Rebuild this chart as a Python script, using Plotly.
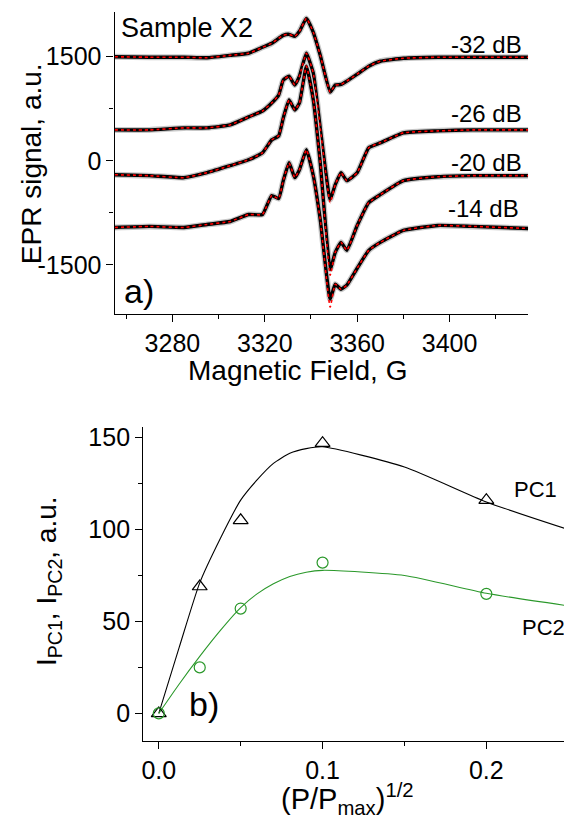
import plotly.graph_objects as go

# top panel: EPR spectra (field in G, signal in a.u.)
field = [3255, 3270, 3285, 3295, 3305, 3313, 3319, 3323, 3326, 3328, 3330.5, 3333, 3335, 3338,
         3341, 3344, 3348.3, 3350.5, 3353, 3355.5, 3360, 3365, 3370, 3380, 3395, 3410, 3434]

epr_32 = [1500, 1493, 1493, 1485, 1520, 1550, 1636, 1694, 1765, 1809, 1823, 1794, 1866, 2053,
          1852, 1522, 990, 1091, 1100, 1148, 1249, 1364, 1435, 1478, 1493, 1493, 1493]
epr_26 = [445, 445, 474, 474, 517, 632, 718, 833, 947, 1163, 1220, 1091, 1220, 1550,
          1263, 474, -560, -344, -172, -287, -172, 187, 258, 402, 431, 445, 445]
epr_20 = [-201, -215, -244, -172, -72, 14, 115, 301, 359, 617, 876, 732, 833, 1364,
          876, -29, -1565, -1321, -1177, -1292, -933, -603, -488, -287, -230, -215, -215]
epr_14 = [-962, -947, -962, -919, -876, -775, -775, -502, -545, -287, -29, -244, -129, 158,
          -215, -847, -1995, -1780, -1852, -1794, -1550, -1292, -1177, -1005, -933, -947, -976]

# red dotted fits, same as the data except where they visibly differ
fit_32 = epr_32
fit_26 = epr_26[:16] + [-603] + epr_26[17:]
fit_20 = epr_20[:16] + [-1650] + epr_20[17:]
fit_14 = epr_14[:16] + [-2110] + epr_14[17:]

spectra = [("-32 dB", epr_32, fit_32), ("-26 dB", epr_26, fit_26),
           ("-20 dB", epr_20, fit_20), ("-14 dB", epr_14, fit_14)]

# bottom panel
p_sqrt = [0.0, 0.025, 0.05, 0.1, 0.2]
pc1 = [0, 69, 105, 147, 116]
pc2 = [0, 25, 57, 82, 65]

fit_x = [0, 0.0125, 0.025, 0.0375, 0.05, 0.06, 0.07, 0.08, 0.09, 0.1, 0.15, 0.2, 0.25]
pc1_fit = [0, 36, 71, 95, 116, 127, 136, 141.5, 144, 145, 134, 115, 100]
pc2_fit = [0, 16, 31, 45, 57.5, 65, 70.5, 74.5, 76.8, 77.8, 75, 65.3, 58.5]

FONT = "Liberation Sans"
OFF = 8  # page body margin, the figure starts 8px in
W, H = 572 - OFF, 825 - OFF
GREEN = "#2a982a"


def px(x):
    return min(max((x - OFF) / W, 0), 1)


def py(y):
    return min(max(1 - (y - OFF) / H, 0), 1)


fig = go.Figure()

for name, y, f in spectra:
    fig.add_trace(go.Scatter(x=field, y=y, mode="lines", xaxis="x", yaxis="y",
                             line=dict(color="#c8c8c8", width=6, shape="spline", smoothing=0.4),
                             hoverinfo="skip"))
    fig.add_trace(go.Scatter(x=field, y=y, mode="lines", xaxis="x", yaxis="y", name=name,
                             line=dict(color="black", width=3.4, shape="spline", smoothing=0.4)))
for name, y, f in spectra:
    fig.add_trace(go.Scatter(x=field, y=f, mode="lines", xaxis="x", yaxis="y", name=name + " fit",
                             line=dict(color="red", width=1.6, dash="dot", shape="spline",
                                       smoothing=0.4)))

fig.add_trace(go.Scatter(x=fit_x, y=pc1_fit, mode="lines", xaxis="x2", yaxis="y2",
                         line=dict(color="black", width=1.1, shape="spline", smoothing=0.6)))
fig.add_trace(go.Scatter(x=fit_x, y=pc2_fit, mode="lines", xaxis="x2", yaxis="y2",
                         line=dict(color=GREEN, width=1.1, shape="spline", smoothing=0.6)))
fig.add_trace(go.Scatter(x=p_sqrt, y=pc1, mode="markers", xaxis="x2", yaxis="y2", name="PC1",
                         marker=dict(symbol="triangle-up-open", size=13, color="black",
                                     line=dict(width=1.2))))
fig.add_trace(go.Scatter(x=p_sqrt, y=pc2, mode="markers", xaxis="x2", yaxis="y2", name="PC2",
                         marker=dict(symbol="circle-open", size=11, color=GREEN,
                                     line=dict(width=1.2))))

axis_style = dict(showline=True, linecolor="black", linewidth=1.3, ticks="outside",
                  ticklen=7, tickwidth=1.3, tickcolor="black", showgrid=False,
                  zeroline=False, tickfont=dict(family=FONT, size=25, color="black"))
minor_style = dict(ticks="outside", ticklen=4, tickwidth=1.3, tickcolor="black", showgrid=False)

fig.update_layout(
    width=W, height=H, margin=dict(l=0, r=0, t=0, b=0),
    paper_bgcolor="white", plot_bgcolor="white", showlegend=False,
    font=dict(family=FONT, color="black"),
    xaxis=dict(axis_style, domain=[px(113), px(528)], range=[3255, 3434], anchor="y",
               tickvals=[3280, 3320, 3360, 3400],
               minor=dict(minor_style, tickvals=[3260, 3300, 3340, 3380, 3420])),
    yaxis=dict(axis_style, domain=[py(311), py(8)], range=[-2203, 2145], anchor="x",
               tickvals=[-1500, 0, 1500], ticktext=["-1500", "0", "1500"],
               minor=dict(minor_style, tickvals=[-750, 750])),
    xaxis2=dict(axis_style, domain=[px(141.7), 1], range=[-0.0095, 0.2523], anchor="y2",
                tickvals=[0, 0.1, 0.2], ticktext=["0.0", "0.1", "0.2"],
                minor=dict(minor_style, tickvals=[0.05, 0.15, 0.25])),
    yaxis2=dict(axis_style, domain=[py(740.7), py(425)], range=[-15.1, 155.8], anchor="x2",
                tickvals=[0, 50, 100, 150],
                minor=dict(minor_style, tickvals=[25, 75, 125])),
)


def note(text, x, y, size, xanchor="center", angle=0):
    fig.add_annotation(text=text, x=px(x), y=py(y), xref="paper", yref="paper",
                       xanchor=xanchor, yanchor="middle", showarrow=False, textangle=angle,
                       font=dict(family=FONT, size=size, color="black"))


note("Sample X2", 117, 24, 27, "left")
note("-32 dB", 524, 41, 24, "right")
note("-26 dB", 524, 110, 24, "right")
note("-20 dB", 524, 159, 24, "right")
note("-14 dB", 521, 205, 24, "right")
note("a)", 120, 288, 34, "left")
note("b)", 186, 703, 34, "left")
note("PC1", 535, 488, 22)
note("PC2", 543, 627, 22)

note("Magnetic Field, G", 297, 368, 28)
note("EPR signal, a.u.", 29, 160, 28, angle=-90)
note("(P/P<sub>max</sub>)<sup>1/2</sup>", 347, 799, 29)
note("I<sub>PC1</sub>, I<sub>PC2</sub>, a.u.", 46, 580, 28, angle=-90)

fig.write_html("out.html")
